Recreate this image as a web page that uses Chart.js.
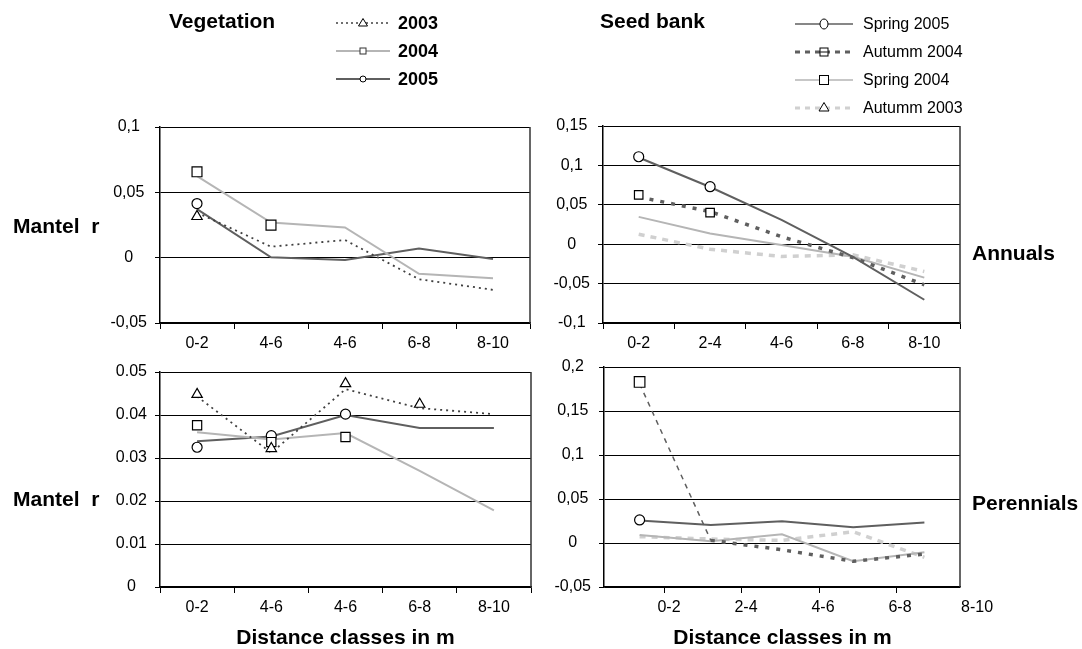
<!DOCTYPE html>
<html><head><meta charset="utf-8">
<script src="https://cdn.jsdelivr.net/npm/chart.js@4.4.1/dist/chart.umd.min.js"></script>
<style>
html,body{margin:0;padding:0;background:#fff;}
#wrap{position:relative;width:1082px;height:649px;overflow:hidden;font-family:"Liberation Sans",Arial,sans-serif;color:#000;}
canvas{position:absolute;left:0;top:0;}
.t{position:absolute;white-space:pre;line-height:1;}
.b{font-weight:bold;}
svg{position:absolute;left:0;top:0;}
</style></head><body>
<div id="wrap">
<canvas id="cTL" width="1082" height="649"></canvas>
<canvas id="cTR" width="1082" height="649"></canvas>
<canvas id="cBL" width="1082" height="649"></canvas>
<canvas id="cBR" width="1082" height="649"></canvas>
<svg width="1082" height="130" viewBox="0 0 1082 130">
  <!-- vegetation legend samples -->
  <line x1="336" y1="23" x2="390" y2="23" stroke="#404040" stroke-width="1.5" stroke-dasharray="2,3"/>
  <polygon points="363,18.5 358.5,26 367.5,26" fill="#fff" stroke="#000" stroke-width="1"/>
  <line x1="336" y1="51" x2="390" y2="51" stroke="#b5b5b5" stroke-width="2"/>
  <rect x="360" y="48" width="6" height="6" fill="#fff" stroke="#333" stroke-width="1"/>
  <line x1="336" y1="79" x2="390" y2="79" stroke="#5f5f5f" stroke-width="2"/>
  <circle cx="363" cy="79" r="3" fill="#fff" stroke="#000" stroke-width="1"/>
  <!-- seed bank legend samples -->
  <line x1="795" y1="24" x2="853" y2="24" stroke="#5f5f5f" stroke-width="1.5"/>
  <ellipse cx="824" cy="24" rx="4" ry="5" fill="#fff" stroke="#000" stroke-width="1"/>
  <line x1="795" y1="52" x2="853" y2="52" stroke="#5f5f5f" stroke-width="3" stroke-dasharray="5,5"/>
  <rect x="820" y="48" width="8" height="8" fill="#fff" stroke="#000" stroke-width="1"/>
  <line x1="820" y1="52" x2="828" y2="52" stroke="#333" stroke-width="1.2"/>
  <line x1="795" y1="80" x2="853" y2="80" stroke="#b5b5b5" stroke-width="1.5"/>
  <rect x="819.5" y="75.5" width="9" height="9" fill="#fff" stroke="#000" stroke-width="1"/>
  <line x1="795" y1="108" x2="853" y2="108" stroke="#d0d0d0" stroke-width="3" stroke-dasharray="5,5"/>
  <polygon points="824,102.5 819,111 829,111" fill="#fff" stroke="#000" stroke-width="1"/>
</svg>
<div class="t b" style="left:169px;top:10px;font-size:21px">Vegetation</div>
<div class="t b" style="left:398px;top:14px;font-size:18px">2003</div>
<div class="t b" style="left:398px;top:42px;font-size:18px">2004</div>
<div class="t b" style="left:398px;top:70px;font-size:18px">2005</div>
<div class="t b" style="left:600px;top:10px;font-size:21px">Seed bank</div>
<div class="t" style="left:863px;top:16px;font-size:16px">Spring 2005</div>
<div class="t" style="left:863px;top:44px;font-size:16px">Autumm 2004</div>
<div class="t" style="left:863px;top:72px;font-size:16px">Spring 2004</div>
<div class="t" style="left:863px;top:100px;font-size:16px">Autumm 2003</div>
<div class="t b" style="left:13px;top:215px;font-size:21px">Mantel  r</div>
<div class="t b" style="left:13px;top:488px;font-size:21px">Mantel  r</div>
<div class="t b" style="left:972px;top:242px;font-size:21px">Annuals</div>
<div class="t b" style="left:972px;top:492px;font-size:21px">Perennials</div>
<div class="t b" style="left:235px;top:626px;font-size:21px;width:221px;text-align:center">Distance classes in m</div>
<div class="t b" style="left:672px;top:626px;font-size:21px;width:221px;text-align:center">Distance classes in m</div>
</div>
<script>
// ---------------- data ----------------
const vegCats  = ['0-2', '4-6', '4-6', '6-8', '8-10'];
const seedCats = ['0-2', '2-4', '4-6', '6-8', '8-10'];
const seedPerXTicks = ['0-2', '2-4', '4-6', '6-8', '8-10'];

const vegAnnYTicks  = ['-0,05', '0', '0,05', '0,1'];
const seedAnnYTicks = ['-0,1', '-0,05', '0', '0,05', '0,1', '0,15'];
const vegPerYTicks  = ['0', '0.01', '0.02', '0.03', '0.04', '0.05'];
const seedPerYTicks = ['-0,05', '0', '0,05', '0,1', '0,15', '0,2'];

// Vegetation – annuals (top left)
const veg2003Ann = [0.0345, 0.0084, 0.0135, -0.0165, -0.0246];
const veg2004Ann = [0.0624, 0.0269, 0.0231, -0.0124, -0.0157];
const veg2005Ann = [0.0371, 0.0003, -0.0018, 0.0071, -0.0010];
const veg2003AnnMark = [0.0315, null, null, null, null];
const veg2004AnnMark = [0.0657, 0.0249, null, null, null];
const veg2005AnnMark = [0.0414, null, null, null, null];

// Vegetation – perennials (bottom left)
const veg2003Per = [0.0443, 0.0312, 0.0460, 0.0416, 0.0402];
const veg2004Per = [0.0360, 0.0343, 0.0358, 0.0270, 0.0178];
const veg2005Per = [0.0339, 0.0350, 0.0400, 0.0370, 0.0370];
const veg2003PerMark = [0.0448, 0.0322, 0.0473, 0.0425, null];
const veg2004PerMark = [0.0376, 0.0337, 0.0349, null, null];
const veg2005PerMark = [0.0325, 0.0352, 0.0402, null, null];

// Seed bank – annuals (top right)
const spring2005Ann = [0.110, 0.0726, 0.0308, -0.0160, -0.0705];
const autumn2004Ann = [0.060, 0.0414, 0.0095, -0.0170, -0.0515];
const spring2004Ann = [0.0347, 0.0135, -0.0010, -0.0160, -0.0424];
const autumn2003Ann = [0.0127, -0.0064, -0.0156, -0.0135, -0.0346];
const spring2005AnnMark = [0.111, 0.073, null, null, null];
const autumn2004AnnMark = [0.0627, 0.040, null, null, null];

// Seed bank – perennials (bottom right)
const spring2005Per = [0.0257, 0.0204, 0.0248, 0.0180, 0.0232];
const autumn2004Per = [0.181, 0.0030, -0.0077, -0.0208, -0.0125];
const spring2004Per = [0.0092, 0.0019, 0.0100, -0.0208, -0.0105];
const autumn2003Per = [0.0072, 0.0045, 0.0030, 0.0128, -0.0163];
const spring2005PerMark = [0.0262, null, null, null, null];
const autumn2004PerMark = [0.183, null, null, null, null];

// ---------------- styling helpers ----------------
const FAM = '"Liberation Sans", Arial, sans-serif';
const TICKFONT = {family: FAM, size: 16};
const DARK = '#5f5f5f', LIGHT = '#b5b5b5', PALE = '#d0d0d0', DOT = '#404040';

function lineDs(label, data, color, width, dash, extra) {
  return Object.assign({label, data, borderColor: color, borderWidth: width,
    borderDash: dash || [], pointRadius: 0, tension: 0, fill: false, order: 2,
    borderCapStyle: 'butt'}, extra || {});
}
function markDs(label, data, style, radius, extra) {
  return Object.assign({label, data, showLine: false, pointStyle: style, pointRadius: radius,
    pointBorderColor: '#000', pointBackgroundColor: '#fff', pointBorderWidth: 1.2, order: 0}, extra || {});
}
function yAxis(min, max, step, labels) {
  return {min, max, afterFit: s => { s.width = 60; },
    ticks: {stepSize: step, font: TICKFONT, color: '#000', padding: 8, crossAlign: 'center',
      callback: (v, i) => labels[i]},
    grid: {color: '#000', lineWidth: 1, tickLength: 5, drawTicks: true, tickColor: '#000'},
    border: {color: '#000', width: 1.5}};
}
function xCat(labels) {
  return {type: 'category', labels, offset: true, afterFit: s => { s.height = 30; },
    ticks: {font: TICKFONT, color: '#000', padding: 5, maxRotation: 0, autoSkip: false},
    grid: {offset: true, drawOnChartArea: false, tickLength: 6, color: '#000', tickColor: '#000'},
    border: {color: '#000', width: 1.5}};
}
const frame = {id: 'frame', afterDraw(chart) {
  const a = chart.chartArea, c = chart.ctx;
  c.save(); c.strokeStyle = '#333'; c.lineWidth = 1.5;
  c.beginPath(); c.moveTo(a.right, a.top); c.lineTo(a.right, a.bottom); c.stroke(); c.restore();
}};
function baseOpts(pad, scales) {
  return {responsive: false, animation: false, devicePixelRatio: 1, events: [],
    layout: {padding: pad},
    plugins: {legend: {display: false}, tooltip: {enabled: false}, title: {display: false}},
    scales};
}

// ---------------- top left: vegetation annuals ----------------
new Chart(document.getElementById('cTL'), {
  type: 'line',
  data: {labels: vegCats, datasets: [
    markDs('2003 mark', veg2003AnnMark, 'triangle', 6),
    markDs('2004 mark', veg2004AnnMark, 'rect', 7),
    markDs('2005 mark', veg2005AnnMark, 'circle', 5),
    lineDs('2003', veg2003Ann, DOT, 1.8, [2, 4]),
    lineDs('2004', veg2004Ann, LIGHT, 2),
    lineDs('2005', veg2005Ann, DARK, 2)
  ]},
  options: baseOpts({left: 100, right: 552, top: 127, bottom: 296},
    {x: xCat(vegCats), y: yAxis(-0.05, 0.1, 0.05, vegAnnYTicks)}),
  plugins: [frame]
});

// ---------------- bottom left: vegetation perennials ----------------
new Chart(document.getElementById('cBL'), {
  type: 'line',
  data: {labels: vegCats, datasets: [
    markDs('2003 mark', veg2003PerMark, 'triangle', 6),
    markDs('2004 mark', veg2004PerMark, 'rect', 6.5),
    markDs('2005 mark', veg2005PerMark, 'circle', 5),
    lineDs('2003', veg2003Per, DOT, 1.8, [2, 4]),
    lineDs('2004', veg2004Per, LIGHT, 2),
    lineDs('2005', veg2005Per, DARK, 2)
  ]},
  options: baseOpts({left: 100, right: 551, top: 372, bottom: 32},
    {x: xCat(vegCats), y: yAxis(0, 0.05, 0.01, vegPerYTicks)}),
  plugins: [frame]
});

// ---------------- top right: seed bank annuals ----------------
new Chart(document.getElementById('cTR'), {
  type: 'line',
  data: {labels: seedCats, datasets: [
    markDs('Spring 2005 mark', spring2005AnnMark, 'circle', 5),
    markDs('Autumm 2004 mark', autumn2004AnnMark, 'rect', 6),
    lineDs('Spring 2005', spring2005Ann, DARK, 2, [], {order: 1}),
    lineDs('Autumm 2004', autumn2004Ann, DARK, 3.5, [4, 7]),
    lineDs('Spring 2004', spring2004Ann, LIGHT, 2),
    lineDs('Autumm 2003', autumn2003Ann, PALE, 3.5, [6, 6])
  ]},
  options: baseOpts({left: 543, right: 122, top: 126, bottom: 296},
    {x: xCat(seedCats), y: yAxis(-0.1, 0.15, 0.05, seedAnnYTicks)}),
  plugins: [frame]
});

// ---------------- bottom right: seed bank perennials ----------------
new Chart(document.getElementById('cBR'), {
  type: 'line',
  data: {labels: seedCats, datasets: [
    markDs('Spring 2005 mark', spring2005PerMark, 'circle', 5),
    markDs('Autumm 2004 mark', autumn2004PerMark, 'rect', 7.5),
    lineDs('Spring 2005', spring2005Per, DARK, 2, [], {order: 1}),
    lineDs('Autumm 2004', autumn2004Per, DARK, 3.5, [4, 7], {segment: {
      borderWidth: c => c.p0DataIndex === 0 ? 1.5 : 3.5,
      borderDash: c => c.p0DataIndex === 0 ? [5, 5] : [4, 7]}}),
    lineDs('Spring 2004', spring2004Per, LIGHT, 2),
    lineDs('Autumm 2003', autumn2003Per, PALE, 3.5, [6, 6])
  ]},
  options: baseOpts({left: 544, right: 122, top: 367, bottom: 32}, {
    x: {type: 'category', labels: seedCats, offset: true, display: false},
    x2: {type: 'linear', position: 'bottom', min: -0.792, max: 3.831,
      afterBuildTicks: s => { s.ticks = seedPerXTicks.map((_, i) => ({value: i})); },
      afterFit: s => { s.height = 30; },
      ticks: {font: TICKFONT, color: '#000', padding: 5, maxRotation: 0, autoSkip: false,
        labelOffset: 4, callback: (v, i) => seedPerXTicks[i]},
      grid: {drawOnChartArea: false, tickLength: 6, color: '#000',
        tickColor: c => (c.index >= 4 ? 'rgba(0,0,0,0)' : '#000')},
      border: {color: '#000', width: 1.5}},
    y: yAxis(-0.05, 0.2, 0.05, seedPerYTicks)
  }),
  plugins: [frame]
});
</script>
</body></html>
